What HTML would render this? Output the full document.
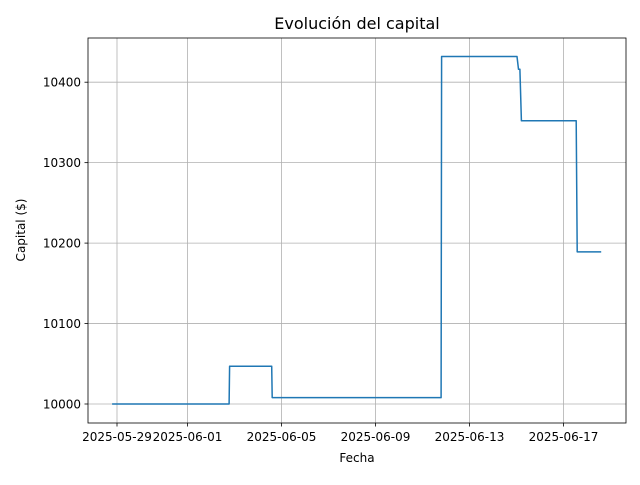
<!DOCTYPE html>
<html><head><meta charset="utf-8"><style>
html,body{margin:0;padding:0;background:#fff;}
text{font-family:"DejaVu Sans","Liberation Sans",sans-serif;fill:#000;}
</style></head><body>
<svg id="chart" width="640" height="480" xmlns="http://www.w3.org/2000/svg"></svg>
<script>
const times = ["2025-05-28T19:00","2025-06-02T18:30","2025-06-02T19:00","2025-06-04T14:00","2025-06-04T14:30","2025-06-11T19:00","2025-06-11T19:30","2025-06-15T00:30","2025-06-15T02:00","2025-06-15T03:30","2025-06-15T05:00","2025-06-17T13:00","2025-06-17T14:00","2025-06-18T14:30"];
const values = [10000,10000,10047,10047,10008,10008,10432,10432,10416,10416,10352,10352,10189,10189];
const xTickLabels = ["2025-05-29","2025-06-01","2025-06-05","2025-06-09","2025-06-13","2025-06-17"];
const yTicks = [10000,10100,10200,10300,10400];

const svg = document.getElementById('chart');
const NS = "http://www.w3.org/2000/svg";
const L=88,R=626,T=38,B=423;
const t0 = Date.parse("2025-05-29T00:00Z");
function days(s){return (Date.parse(s+(s.length>10?":00Z":"T00:00Z"))-t0)/86400000;}
function xs(s){return 117 + days(s)*23.5;}
function ys(v){return 404 - (v-10000)*0.8045;}
function el(tag,attrs,parent){const e=document.createElementNS(NS,tag);for(const k in attrs)e.setAttribute(k,attrs[k]);(parent||svg).appendChild(e);return e;}

const grid = el('g',{});


xTickLabels.forEach(d=>{
  const x=xs(d);
  const g=el('line',{x1:x,x2:x,y1:T,y2:B,stroke:'#b0b0b0','stroke-width':0.8},grid);
  
  
  el('line',{x1:x,x2:x,y1:B,y2:B+3.5,stroke:'#000','stroke-width':0.8});
  const t=el('text',{x:x,y:B+18,'text-anchor':'middle','font-size':12});
  t.textContent=d;
  
  
});
yTicks.forEach(v=>{
  const y=ys(v);
  const g=el('line',{x1:L,x2:R,y1:y,y2:y,stroke:'#b0b0b0','stroke-width':0.8},grid);
  
  
  el('line',{x1:L-3.5,x2:L,y1:y,y2:y,stroke:'#000','stroke-width':0.8});
  const t=el('text',{x:L-7,y:y+4.5,'text-anchor':'end','font-size':12});
  t.textContent=v;
  
  
});

const pts = times.map((t,i)=>xs(t).toFixed(1)+','+ys(values[i]).toFixed(1)).join(' ');
const line = el('polyline',{points:pts,fill:'none',stroke:'#1f77b4','stroke-width':1.5,'stroke-linejoin':'round'});



const frame = el('rect',{x:L,y:T,width:R-L,height:B-T,fill:'none',stroke:'#000','stroke-width':0.8});



const title = el('text',{x:(L+R)/2,y:29,'text-anchor':'middle','font-size':16});
title.textContent='Evolución del capital';



const xl = el('text',{x:(L+R)/2,y:462,'text-anchor':'middle','font-size':12});
xl.textContent='Fecha';



const yl = el('text',{x:0,y:0,'text-anchor':'middle','font-size':12,transform:'translate(25,230) rotate(-90)'});
yl.textContent='Capital ($)';


</script>
</body></html>
